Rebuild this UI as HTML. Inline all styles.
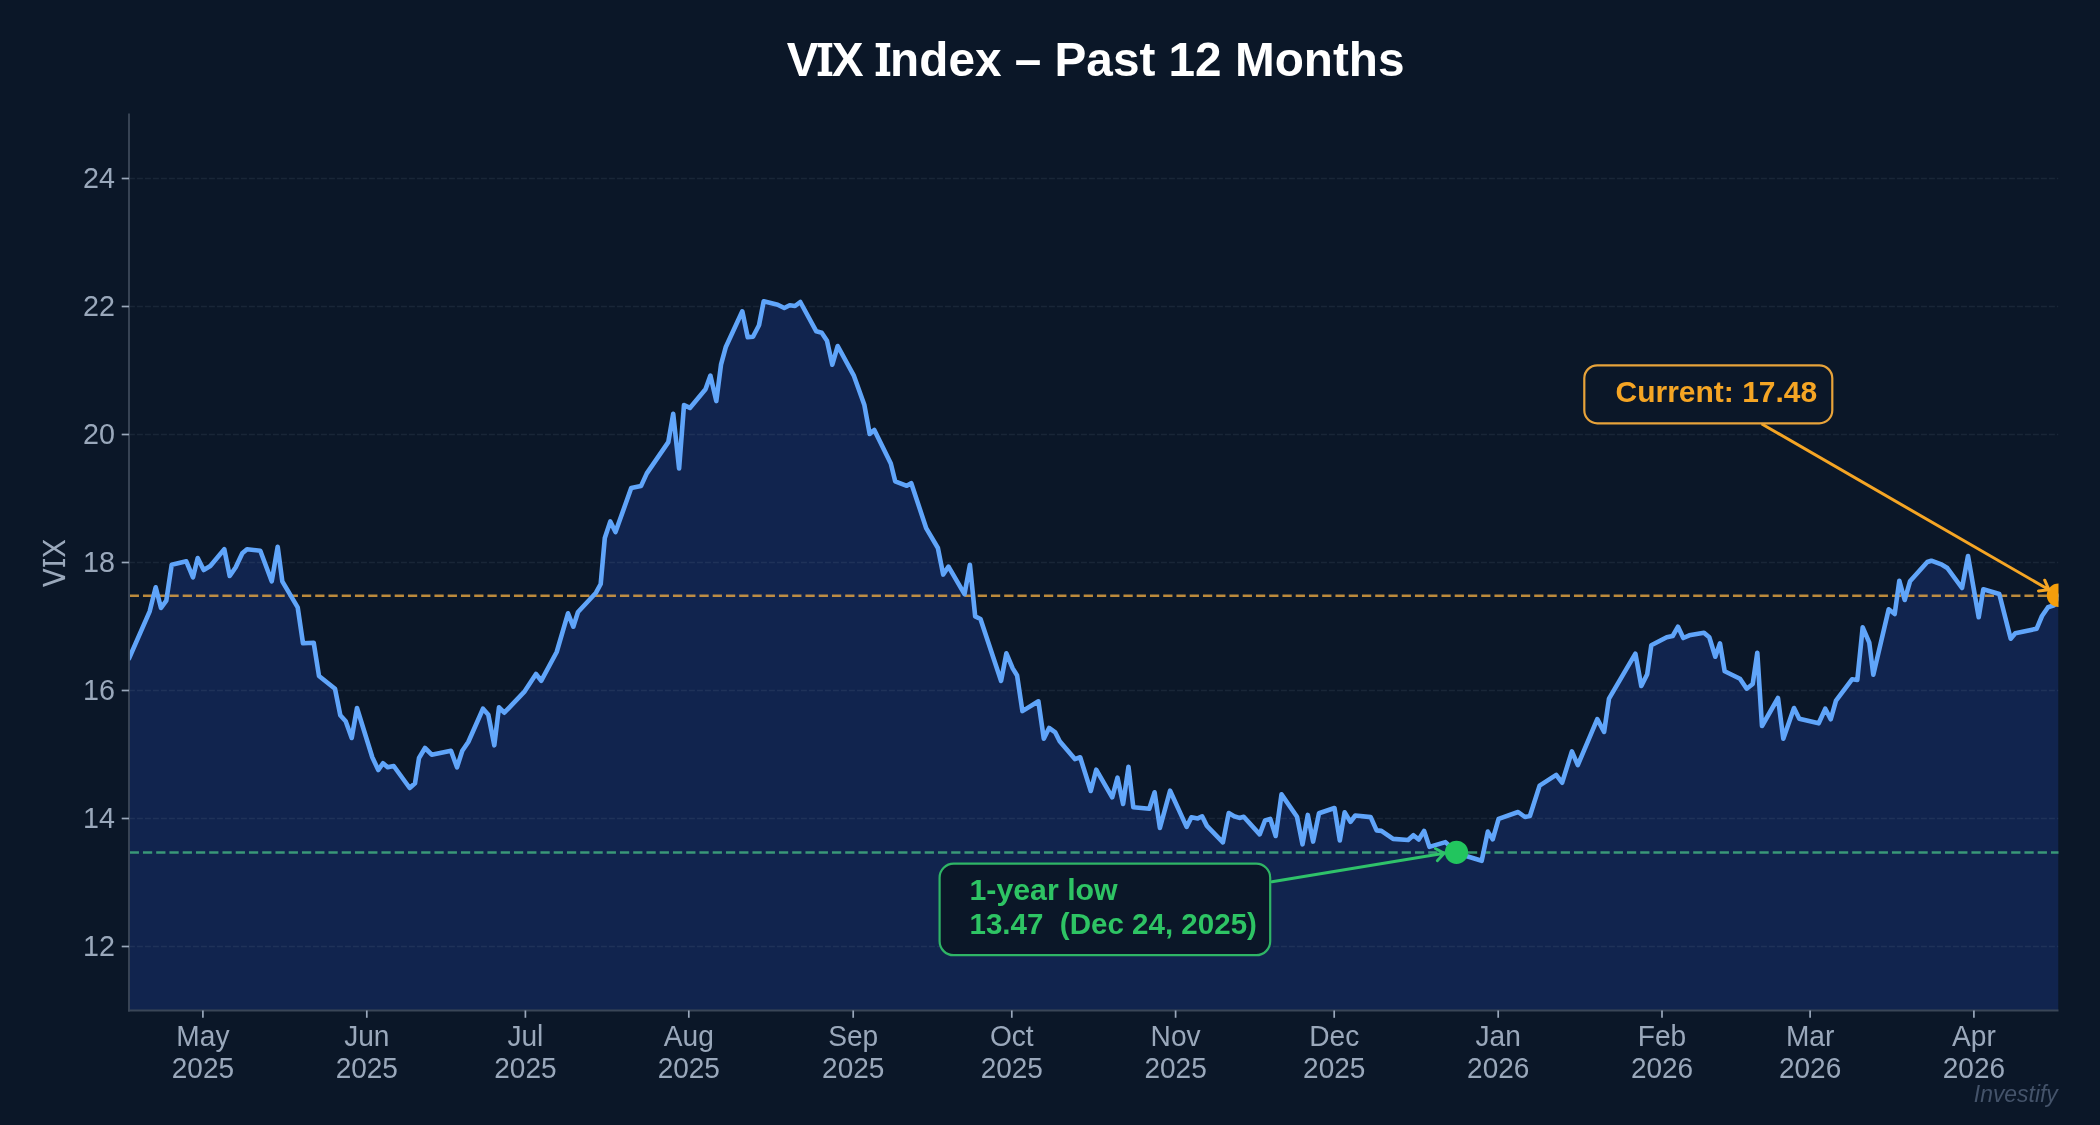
<!DOCTYPE html>
<html><head><meta charset="utf-8"><style>
html,body{margin:0;padding:0;background:#0b1728;overflow:hidden}
svg{display:block;will-change:transform}
text{font-family:"Liberation Sans",sans-serif}
.tk{font-size:29.3px;fill:#9aa8bb}
.yl{font-size:32px;fill:#9aa8bb}
.ti{font-size:49px;font-weight:bold;fill:#ffffff}
.an{font-size:30px;font-weight:bold}
.wm{font-size:24px;font-style:italic;fill:#44536a}
</style></head><body>
<svg width="2100" height="1125" viewBox="0 0 2100 1125">
<rect x="0" y="0" width="2100" height="1125" fill="#0b1728"/>
<defs><clipPath id="ax"><rect x="128.9" y="114.5" width="1929.6" height="896.0"/></clipPath></defs>
<g clip-path="url(#ax)">
<path d="M129.0,658.5 L149.7,611.3 L155.7,587.3 L161.0,608.0 L166.3,600.7 L171.7,564.7 L186.3,561.3 L193.0,577.3 L197.7,558.0 L203.7,570.0 L210.3,566.0 L224.3,549.3 L229.7,576.0 L235.7,567.3 L242.3,553.3 L247.0,549.3 L260.3,550.7 L271.7,581.3 L277.7,546.7 L282.3,581.3 L297.7,607.3 L303.0,643.3 L313.7,642.7 L319.0,676.0 L335.0,688.7 L340.3,715.3 L345.7,721.3 L351.7,738.0 L357.0,708.0 L372.3,757.3 L378.3,770.0 L383.0,763.3 L387.7,767.3 L393.7,766.0 L409.7,788.0 L415.0,783.3 L419.0,758.0 L425.0,748.0 L431.7,754.7 L451.0,750.7 L457.0,767.3 L462.3,750.7 L468.3,742.0 L483.0,708.7 L488.3,714.7 L494.3,745.3 L499.0,707.3 L504.3,712.7 L524.7,691.3 L536.0,674.0 L541.3,680.7 L556.7,652.0 L568.0,613.3 L573.3,626.7 L578.0,612.0 L596.0,592.7 L600.7,584.0 L604.8,538.0 L610.3,521.4 L615.5,532.1 L631.2,488.1 L641.0,486.1 L646.8,473.4 L668.3,442.1 L673.2,413.8 L679.1,468.5 L684.0,405.0 L689.9,407.9 L705.5,389.3 L710.4,375.6 L716.3,401.1 L721.0,364.7 L725.7,347.3 L742.3,311.3 L747.7,337.3 L753.0,336.7 L759.0,325.3 L763.7,301.3 L777.7,304.7 L784.3,308.0 L789.7,305.3 L795.0,306.0 L800.3,302.0 L816.3,331.3 L821.7,332.7 L827.0,340.7 L832.3,364.7 L837.7,346.0 L853.7,375.3 L864.3,404.7 L869.7,434.0 L874.3,430.0 L890.8,463.5 L895.2,481.3 L906.8,485.8 L911.2,483.1 L926.3,528.4 L937.9,548.0 L943.2,574.6 L948.5,566.6 L964.5,594.2 L969.9,564.8 L975.2,616.4 L980.5,619.0 L1001.1,680.9 L1006.4,653.3 L1012.7,668.4 L1017.1,675.5 L1022.4,711.1 L1038.4,701.3 L1043.8,738.6 L1049.1,728.0 L1055.3,732.4 L1059.7,741.3 L1074.9,759.1 L1080.2,757.3 L1090.8,791.0 L1096.2,769.7 L1112.2,797.3 L1117.5,777.7 L1123.1,804.0 L1128.5,766.7 L1133.3,807.2 L1149.3,808.8 L1154.6,792.3 L1159.9,828.0 L1170.1,790.7 L1186.6,826.9 L1191.4,817.3 L1197.8,818.4 L1202.1,816.3 L1206.9,825.9 L1222.9,842.4 L1228.7,813.1 L1234.1,816.3 L1239.4,817.9 L1243.7,816.8 L1259.7,834.4 L1265.0,820.5 L1270.3,818.9 L1275.7,836.0 L1281.5,794.4 L1297.0,816.8 L1302.5,844.3 L1307.8,814.9 L1313.1,841.6 L1319.0,813.3 L1334.5,808.0 L1339.8,840.5 L1344.6,812.3 L1350.5,821.9 L1355.3,815.5 L1370.7,817.1 L1376.6,830.4 L1381.4,830.9 L1393.1,838.9 L1408.1,840.0 L1413.4,835.2 L1418.7,839.5 L1424.1,830.9 L1429.4,846.9 L1445.4,842.1 L1456.6,852.3 L1467.8,856.5 L1481.7,860.8 L1487.8,831.6 L1492.7,839.4 L1498.6,818.9 L1518.1,812.0 L1525.0,817.0 L1529.9,816.0 L1539.6,785.6 L1556.2,774.9 L1562.1,782.7 L1571.9,751.4 L1577.8,765.1 L1597.3,719.2 L1604.1,731.9 L1609.0,698.7 L1635.4,653.7 L1641.3,686.0 L1647.2,674.2 L1651.3,645.3 L1666.7,637.3 L1672.7,636.0 L1678.0,626.7 L1683.3,638.0 L1689.3,635.3 L1704.0,632.7 L1709.3,637.3 L1715.3,656.7 L1720.0,643.3 L1724.7,671.3 L1740.0,678.7 L1746.7,688.7 L1752.7,684.0 L1757.3,652.7 L1762.0,726.0 L1778.0,698.0 L1783.3,738.7 L1794.0,708.0 L1799.3,718.7 L1818.7,723.3 L1825.3,708.7 L1830.7,719.3 L1836.0,700.7 L1852.0,679.3 L1857.3,680.0 L1862.7,627.3 L1869.3,642.7 L1873.3,674.7 L1888.7,609.3 L1894.7,614.0 L1899.3,580.7 L1904.7,600.0 L1910.0,581.3 L1927.3,562.0 L1931.3,560.7 L1942.0,564.7 L1947.3,568.0 L1962.0,588.0 L1968.0,556.0 L1978.7,617.3 L1983.3,589.3 L1999.3,594.0 L2010.7,638.7 L2015.3,633.3 L2036.7,628.7 L2042.0,616.0 L2048.0,607.3 L2054.0,605.3 L2058.5,595.8 L2058.5,1010.5 L129.0,1010.5 Z" fill="#11244e"/>
<line x1="128.9" y1="946.5" x2="2058.5" y2="946.5" stroke="#94a3b8" stroke-opacity="0.11" stroke-width="1.5" stroke-dasharray="6 2"/>
<line x1="128.9" y1="818.5" x2="2058.5" y2="818.5" stroke="#94a3b8" stroke-opacity="0.11" stroke-width="1.5" stroke-dasharray="6 2"/>
<line x1="128.9" y1="690.5" x2="2058.5" y2="690.5" stroke="#94a3b8" stroke-opacity="0.11" stroke-width="1.5" stroke-dasharray="6 2"/>
<line x1="128.9" y1="562.5" x2="2058.5" y2="562.5" stroke="#94a3b8" stroke-opacity="0.11" stroke-width="1.5" stroke-dasharray="6 2"/>
<line x1="128.9" y1="434.5" x2="2058.5" y2="434.5" stroke="#94a3b8" stroke-opacity="0.11" stroke-width="1.5" stroke-dasharray="6 2"/>
<line x1="128.9" y1="306.5" x2="2058.5" y2="306.5" stroke="#94a3b8" stroke-opacity="0.11" stroke-width="1.5" stroke-dasharray="6 2"/>
<line x1="128.9" y1="178.5" x2="2058.5" y2="178.5" stroke="#94a3b8" stroke-opacity="0.11" stroke-width="1.5" stroke-dasharray="6 2"/>
<line x1="128.9" y1="595.78" x2="2078.5" y2="595.78" stroke="#eeaa42" stroke-opacity="0.78" stroke-width="2.5" stroke-dasharray="9.25 4" stroke-dashoffset="-0.8"/>
<line x1="128.9" y1="852.42" x2="2078.5" y2="852.42" stroke="#45b884" stroke-opacity="0.78" stroke-width="2.5" stroke-dasharray="9.25 4" stroke-dashoffset="-0.8"/>
<path d="M129.0,658.5 L149.7,611.3 L155.7,587.3 L161.0,608.0 L166.3,600.7 L171.7,564.7 L186.3,561.3 L193.0,577.3 L197.7,558.0 L203.7,570.0 L210.3,566.0 L224.3,549.3 L229.7,576.0 L235.7,567.3 L242.3,553.3 L247.0,549.3 L260.3,550.7 L271.7,581.3 L277.7,546.7 L282.3,581.3 L297.7,607.3 L303.0,643.3 L313.7,642.7 L319.0,676.0 L335.0,688.7 L340.3,715.3 L345.7,721.3 L351.7,738.0 L357.0,708.0 L372.3,757.3 L378.3,770.0 L383.0,763.3 L387.7,767.3 L393.7,766.0 L409.7,788.0 L415.0,783.3 L419.0,758.0 L425.0,748.0 L431.7,754.7 L451.0,750.7 L457.0,767.3 L462.3,750.7 L468.3,742.0 L483.0,708.7 L488.3,714.7 L494.3,745.3 L499.0,707.3 L504.3,712.7 L524.7,691.3 L536.0,674.0 L541.3,680.7 L556.7,652.0 L568.0,613.3 L573.3,626.7 L578.0,612.0 L596.0,592.7 L600.7,584.0 L604.8,538.0 L610.3,521.4 L615.5,532.1 L631.2,488.1 L641.0,486.1 L646.8,473.4 L668.3,442.1 L673.2,413.8 L679.1,468.5 L684.0,405.0 L689.9,407.9 L705.5,389.3 L710.4,375.6 L716.3,401.1 L721.0,364.7 L725.7,347.3 L742.3,311.3 L747.7,337.3 L753.0,336.7 L759.0,325.3 L763.7,301.3 L777.7,304.7 L784.3,308.0 L789.7,305.3 L795.0,306.0 L800.3,302.0 L816.3,331.3 L821.7,332.7 L827.0,340.7 L832.3,364.7 L837.7,346.0 L853.7,375.3 L864.3,404.7 L869.7,434.0 L874.3,430.0 L890.8,463.5 L895.2,481.3 L906.8,485.8 L911.2,483.1 L926.3,528.4 L937.9,548.0 L943.2,574.6 L948.5,566.6 L964.5,594.2 L969.9,564.8 L975.2,616.4 L980.5,619.0 L1001.1,680.9 L1006.4,653.3 L1012.7,668.4 L1017.1,675.5 L1022.4,711.1 L1038.4,701.3 L1043.8,738.6 L1049.1,728.0 L1055.3,732.4 L1059.7,741.3 L1074.9,759.1 L1080.2,757.3 L1090.8,791.0 L1096.2,769.7 L1112.2,797.3 L1117.5,777.7 L1123.1,804.0 L1128.5,766.7 L1133.3,807.2 L1149.3,808.8 L1154.6,792.3 L1159.9,828.0 L1170.1,790.7 L1186.6,826.9 L1191.4,817.3 L1197.8,818.4 L1202.1,816.3 L1206.9,825.9 L1222.9,842.4 L1228.7,813.1 L1234.1,816.3 L1239.4,817.9 L1243.7,816.8 L1259.7,834.4 L1265.0,820.5 L1270.3,818.9 L1275.7,836.0 L1281.5,794.4 L1297.0,816.8 L1302.5,844.3 L1307.8,814.9 L1313.1,841.6 L1319.0,813.3 L1334.5,808.0 L1339.8,840.5 L1344.6,812.3 L1350.5,821.9 L1355.3,815.5 L1370.7,817.1 L1376.6,830.4 L1381.4,830.9 L1393.1,838.9 L1408.1,840.0 L1413.4,835.2 L1418.7,839.5 L1424.1,830.9 L1429.4,846.9 L1445.4,842.1 L1456.6,852.3 L1467.8,856.5 L1481.7,860.8 L1487.8,831.6 L1492.7,839.4 L1498.6,818.9 L1518.1,812.0 L1525.0,817.0 L1529.9,816.0 L1539.6,785.6 L1556.2,774.9 L1562.1,782.7 L1571.9,751.4 L1577.8,765.1 L1597.3,719.2 L1604.1,731.9 L1609.0,698.7 L1635.4,653.7 L1641.3,686.0 L1647.2,674.2 L1651.3,645.3 L1666.7,637.3 L1672.7,636.0 L1678.0,626.7 L1683.3,638.0 L1689.3,635.3 L1704.0,632.7 L1709.3,637.3 L1715.3,656.7 L1720.0,643.3 L1724.7,671.3 L1740.0,678.7 L1746.7,688.7 L1752.7,684.0 L1757.3,652.7 L1762.0,726.0 L1778.0,698.0 L1783.3,738.7 L1794.0,708.0 L1799.3,718.7 L1818.7,723.3 L1825.3,708.7 L1830.7,719.3 L1836.0,700.7 L1852.0,679.3 L1857.3,680.0 L1862.7,627.3 L1869.3,642.7 L1873.3,674.7 L1888.7,609.3 L1894.7,614.0 L1899.3,580.7 L1904.7,600.0 L1910.0,581.3 L1927.3,562.0 L1931.3,560.7 L1942.0,564.7 L1947.3,568.0 L1962.0,588.0 L1968.0,556.0 L1978.7,617.3 L1983.3,589.3 L1999.3,594.0 L2010.7,638.7 L2015.3,633.3 L2036.7,628.7 L2042.0,616.0 L2048.0,607.3 L2054.0,605.3 L2058.5,595.8" fill="none" stroke="#60a5fa" stroke-width="4.6" stroke-linejoin="round" stroke-linecap="round"/>
<circle cx="1456.5" cy="852.3" r="11.6" fill="#22c55e"/>
<circle cx="2058.5" cy="595.3" r="11.7" fill="#f59e0b"/>
</g>
<line x1="129" y1="113.5" x2="129" y2="1011.5" stroke="#3a4657" stroke-width="1.9"/>
<line x1="128" y1="1010.5" x2="2058.5" y2="1010.5" stroke="#3a4657" stroke-width="1.9"/>
<line x1="121.7" y1="946.5" x2="129" y2="946.5" stroke="#9aa8bb" stroke-width="1.7"/>
<text transform="translate(115.0,956.4) scale(0.98,1)" text-anchor="end" class="tk" >12</text>
<line x1="121.7" y1="818.5" x2="129" y2="818.5" stroke="#9aa8bb" stroke-width="1.7"/>
<text transform="translate(115.0,828.4) scale(0.98,1)" text-anchor="end" class="tk" >14</text>
<line x1="121.7" y1="690.5" x2="129" y2="690.5" stroke="#9aa8bb" stroke-width="1.7"/>
<text transform="translate(115.0,700.4) scale(0.98,1)" text-anchor="end" class="tk" >16</text>
<line x1="121.7" y1="562.5" x2="129" y2="562.5" stroke="#9aa8bb" stroke-width="1.7"/>
<text transform="translate(115.0,572.4) scale(0.98,1)" text-anchor="end" class="tk" >18</text>
<line x1="121.7" y1="434.5" x2="129" y2="434.5" stroke="#9aa8bb" stroke-width="1.7"/>
<text transform="translate(115.0,444.4) scale(0.98,1)" text-anchor="end" class="tk" >20</text>
<line x1="121.7" y1="306.5" x2="129" y2="306.5" stroke="#9aa8bb" stroke-width="1.7"/>
<text transform="translate(115.0,316.4) scale(0.98,1)" text-anchor="end" class="tk" >22</text>
<line x1="121.7" y1="178.5" x2="129" y2="178.5" stroke="#9aa8bb" stroke-width="1.7"/>
<text transform="translate(115.0,188.4) scale(0.98,1)" text-anchor="end" class="tk" >24</text>
<line x1="202.9" y1="1010.5" x2="202.9" y2="1017.8" stroke="#9aa8bb" stroke-width="1.7"/>
<text transform="translate(202.9,1046.0) scale(0.96,1)" text-anchor="middle" class="tk" >May</text>
<text transform="translate(202.9,1077.8) scale(0.955,1)" text-anchor="middle" class="tk" >2025</text>
<line x1="366.8" y1="1010.5" x2="366.8" y2="1017.8" stroke="#9aa8bb" stroke-width="1.7"/>
<text transform="translate(366.8,1046.0) scale(0.96,1)" text-anchor="middle" class="tk" >Jun</text>
<text transform="translate(366.8,1077.8) scale(0.955,1)" text-anchor="middle" class="tk" >2025</text>
<line x1="525.4" y1="1010.5" x2="525.4" y2="1017.8" stroke="#9aa8bb" stroke-width="1.7"/>
<text transform="translate(525.4,1046.0) scale(0.96,1)" text-anchor="middle" class="tk" >Jul</text>
<text transform="translate(525.4,1077.8) scale(0.955,1)" text-anchor="middle" class="tk" >2025</text>
<line x1="688.8" y1="1010.5" x2="688.8" y2="1017.8" stroke="#9aa8bb" stroke-width="1.7"/>
<text transform="translate(688.8,1046.0) scale(0.96,1)" text-anchor="middle" class="tk" >Aug</text>
<text transform="translate(688.8,1077.8) scale(0.955,1)" text-anchor="middle" class="tk" >2025</text>
<line x1="853.2" y1="1010.5" x2="853.2" y2="1017.8" stroke="#9aa8bb" stroke-width="1.7"/>
<text transform="translate(853.2,1046.0) scale(0.96,1)" text-anchor="middle" class="tk" >Sep</text>
<text transform="translate(853.2,1077.8) scale(0.955,1)" text-anchor="middle" class="tk" >2025</text>
<line x1="1011.8" y1="1010.5" x2="1011.8" y2="1017.8" stroke="#9aa8bb" stroke-width="1.7"/>
<text transform="translate(1011.8,1046.0) scale(0.96,1)" text-anchor="middle" class="tk" >Oct</text>
<text transform="translate(1011.8,1077.8) scale(0.955,1)" text-anchor="middle" class="tk" >2025</text>
<line x1="1175.6" y1="1010.5" x2="1175.6" y2="1017.8" stroke="#9aa8bb" stroke-width="1.7"/>
<text transform="translate(1175.6,1046.0) scale(0.96,1)" text-anchor="middle" class="tk" >Nov</text>
<text transform="translate(1175.6,1077.8) scale(0.955,1)" text-anchor="middle" class="tk" >2025</text>
<line x1="1334.2" y1="1010.5" x2="1334.2" y2="1017.8" stroke="#9aa8bb" stroke-width="1.7"/>
<text transform="translate(1334.2,1046.0) scale(0.96,1)" text-anchor="middle" class="tk" >Dec</text>
<text transform="translate(1334.2,1077.8) scale(0.955,1)" text-anchor="middle" class="tk" >2025</text>
<line x1="1498.2" y1="1010.5" x2="1498.2" y2="1017.8" stroke="#9aa8bb" stroke-width="1.7"/>
<text transform="translate(1498.2,1046.0) scale(0.96,1)" text-anchor="middle" class="tk" >Jan</text>
<text transform="translate(1498.2,1077.8) scale(0.955,1)" text-anchor="middle" class="tk" >2026</text>
<line x1="1662.0" y1="1010.5" x2="1662.0" y2="1017.8" stroke="#9aa8bb" stroke-width="1.7"/>
<text transform="translate(1662.0,1046.0) scale(0.96,1)" text-anchor="middle" class="tk" >Feb</text>
<text transform="translate(1662.0,1077.8) scale(0.955,1)" text-anchor="middle" class="tk" >2026</text>
<line x1="1810.1" y1="1010.5" x2="1810.1" y2="1017.8" stroke="#9aa8bb" stroke-width="1.7"/>
<text transform="translate(1810.1,1046.0) scale(0.96,1)" text-anchor="middle" class="tk" >Mar</text>
<text transform="translate(1810.1,1077.8) scale(0.955,1)" text-anchor="middle" class="tk" >2026</text>
<line x1="1973.9" y1="1010.5" x2="1973.9" y2="1017.8" stroke="#9aa8bb" stroke-width="1.7"/>
<text transform="translate(1973.9,1046.0) scale(0.96,1)" text-anchor="middle" class="tk" >Apr</text>
<text transform="translate(1973.9,1077.8) scale(0.955,1)" text-anchor="middle" class="tk" >2026</text>
<path d="M42.9,568.4 L42.9,571.6 L61.3,577.6 L42.9,583.9 L42.9,587.1 L65.1,579.2 L65.1,575.9 Z M42.9,539.7 L42.9,542.8 L65.1,557.0 L65.1,553.9 Z M42.9,553.9 L42.9,557.0 L65.1,542.8 L65.1,539.7 Z M42.9,562.0 L65.1,562.0 L65.1,564.8 L42.9,564.8 Z M42.9,558.9 L45.1,558.9 L45.1,566.8 L42.9,566.8 Z M62.9,558.9 L65.1,558.9 L65.1,566.8 L62.9,566.8 Z" fill="#9aa8bb" fill-rule="nonzero"/>
<text transform="translate(1095.6,75.6) scale(0.974,1)" text-anchor="middle" class="ti" >VIX Index – Past 12 Months</text>
<rect x="817.7" y="43" width="14.6" height="4.3" fill="#ffffff"/>
<rect x="817.7" y="71.7" width="14.6" height="4.3" fill="#ffffff"/>
<rect x="875.7" y="43" width="14.6" height="4.3" fill="#ffffff"/>
<rect x="875.7" y="71.7" width="14.6" height="4.3" fill="#ffffff"/>
<path d="M1762.7,424.5 L2049.0,589.8 M2038.5,590.9 L2049.0,589.8 L2044.7,580.2" fill="none" stroke="#f5a524" stroke-width="3.0" stroke-linecap="round" stroke-linejoin="round"/>
<rect x="1584.3" y="365.3" width="248" height="58" rx="13" ry="13" fill="#0b1728" stroke="#e8a33a" stroke-width="2.2"/>
<text transform="translate(1615.5,401.7) scale(1.0,1)" text-anchor="start" class="an" fill="#f5a524">Current: 17.48</text>
<path d="M1272.0,881.8 L1444.2,853.3 M1437.3,860.8 L1444.2,853.3 L1435.3,848.4" fill="none" stroke="#2fc26a" stroke-width="2.9" stroke-linecap="round" stroke-linejoin="round"/>
<rect x="939.6" y="863.7" width="330.6" height="91.5" rx="14" ry="14" fill="#0b1728" stroke="#2fb566" stroke-width="2.2"/>
<text transform="translate(969.5,899.9) scale(1.01,1)" text-anchor="start" class="an" fill="#2ec464">1-year low</text>
<text transform="translate(969.5,933.9) scale(0.985,1)" text-anchor="start" class="an" fill="#2ec464">13.47  (Dec 24, 2025)</text>
<text transform="translate(2057.8,1101.7) scale(0.955,1)" text-anchor="end" class="wm" >Investify</text>
</svg></body></html>
